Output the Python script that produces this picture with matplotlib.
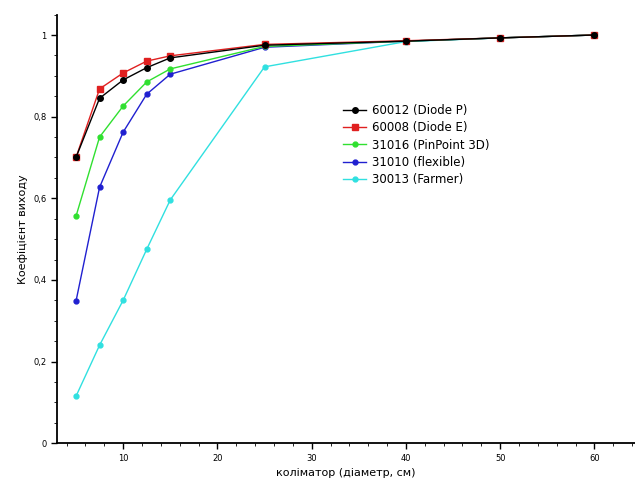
import numpy as np
import matplotlib.pyplot as plt
from matplotlib.ticker import MultipleLocator, FixedLocator

# collimator diameters, cm
diameter = [5, 7.5, 10, 12.5, 15, 25, 40, 50, 60]

# output factors
diode_p = [0.70, 0.845, 0.89, 0.92, 0.944, 0.975, 0.985, 0.993, 1.0]
diode_e = [0.70, 0.868, 0.907, 0.936, 0.949, 0.977, 0.986, 0.993, 1.0]
pinpoint = [0.556, 0.75, 0.826, 0.885, 0.917, 0.972, 0.985, 0.993, 1.0]
flexible = [0.348, 0.627, 0.762, 0.855, 0.904, 0.97, 0.985, 0.993, 1.0]
farmer = [0.115, 0.24, 0.35, 0.475, 0.596, 0.922, 0.984, 0.993, 1.0]

labels = ['60012 (Diode P)', '60008 (Diode E)', '31016 (PinPoint 3D)',
          '31010 (flexible)', '30013 (Farmer)']
x_ticks = [10, 20, 30, 40, 50, 60]
y_ticks = [0, 0.2, 0.4, 0.6, 0.8, 1]
y_tick_labels = ['0', '0,2', '0,4', '0,6', '0,8', '1']

fig = plt.figure(figsize=(6.35, 4.87), dpi=100)
ax = fig.add_axes([0.09, 0.09, 0.91, 0.88])

series = [diode_p, diode_e, pinpoint, flexible, farmer]
colors = ['black', '#e02020', '#30e030', '#2020d0', '#30e0e0']
markers = ['o', 's', 'o', 'o', 'o']
msizes = [4, 5, 3.5, 3.5, 3.5]
zorders = [7, 6, 5, 4, 3]
for ys, c, m, ms, z, lab in zip(series, colors, markers, msizes, zorders, labels):
    ax.plot(diameter, ys, color=c, marker=m, markersize=ms, lw=1, label=lab,
            markeredgecolor=c, zorder=z)

ax.set_xlim(3, 64.3)
ax.set_ylim(0, 1.05)
ax.xaxis.set_major_locator(FixedLocator(x_ticks))
ax.xaxis.set_minor_locator(MultipleLocator(2))
ax.yaxis.set_major_locator(FixedLocator(y_ticks))
ax.set_yticklabels(y_tick_labels)
ax.yaxis.set_minor_locator(MultipleLocator(0.05))
ax.tick_params(labelsize=6, length=4, width=1)
ax.tick_params(which='minor', length=2.5)
for s in ['top', 'right']:
    ax.spines[s].set_visible(False)
ax.spines['left'].set_linewidth(1.3)
ax.spines['bottom'].set_linewidth(1.3)

ax.set_xlabel('коліматор (діаметр, см)', fontsize=8)
ax.set_ylabel('Коефіцієнт виходу', fontsize=8)

ax.legend(loc='upper left', bbox_to_anchor=(0.48, 0.81), frameon=False,
          fontsize=8.5, handlelength=2, labelspacing=0.35, borderpad=0.2,
          handletextpad=0.5)

fig.savefig('out.png', dpi=100)
